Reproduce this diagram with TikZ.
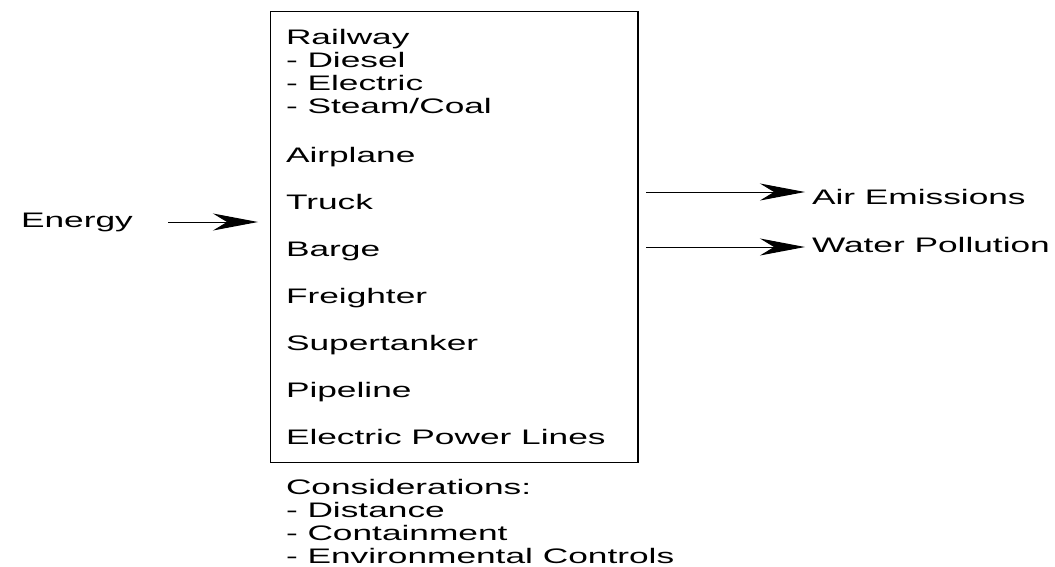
\documentclass[tikz,border=0pt]{standalone}
\usepackage{fontspec}
\setmainfont{Liberation Sans}[FakeStretch=1.68]
\usetikzlibrary{arrows.meta}
\begin{document}
\begin{tikzpicture}[x=1pt,y=-1pt,
  lbl/.style={anchor=base west, inner sep=0pt, outer sep=0pt, font=\fontsize{21}{23}\selectfont},
  flow/.style={line width=1pt, -{Stealth[length=45pt,width=17pt,inset=14pt]}},
  boxstyle/.style={draw, line width=1.3pt, minimum width=367.5pt, minimum height=451pt, inner sep=0pt, outer sep=0pt, anchor=north west}]
\useasboundingbox (0,0) rectangle (1055,566);
\node[boxstyle] (box) at (270.5,11.5) {};
% items inside the box
\node[lbl] (rail) at (286,44) {Railway};
\node[lbl] (diesel) at (286,67) {- Diesel};
\node[lbl] (elec) at (286,90) {- Electric};
\node[lbl] (steam) at (286,113) {- Steam/Coal};
\node[lbl] (air) at (286,162) {Airplane};
\node[lbl] (truck) at (286,209) {Truck};
\node[lbl] (barge) at (286,256) {Barge};
\node[lbl] (freight) at (286,303) {Freighter};
\node[lbl] (super) at (286,350) {Supertanker};
\node[lbl] (pipe) at (286,397) {Pipeline};
\node[lbl] (epl) at (286,444) {Electric Power Lines};
% considerations
\node[lbl] (cons) at (286,494) {Considerations:};
\node[lbl] (dist) at (286,517) {- Distance};
\node[lbl] (cont) at (286,540) {- Containment};
\node[lbl] (env) at (286,563) {- Environmental Controls};
% inputs / outputs
\node[lbl] (energy) at (21,227) {Energy};
\node[lbl] (airem) at (812,204) {Air Emissions};
\node[lbl] (water) at (812,252) {Water Pollution};
\coordinate (e1) at (168,222);
\coordinate (e2) at (258,222);
\coordinate (a1) at (646,192);
\coordinate (a2) at (805,192);
\coordinate (w1) at (646,247);
\coordinate (w2) at (805,247);
\draw[flow] (e1) -- (e2);
\draw[flow] (a1) -- (a2);
\draw[flow] (w1) -- (w2);
\end{tikzpicture}
\end{document}
